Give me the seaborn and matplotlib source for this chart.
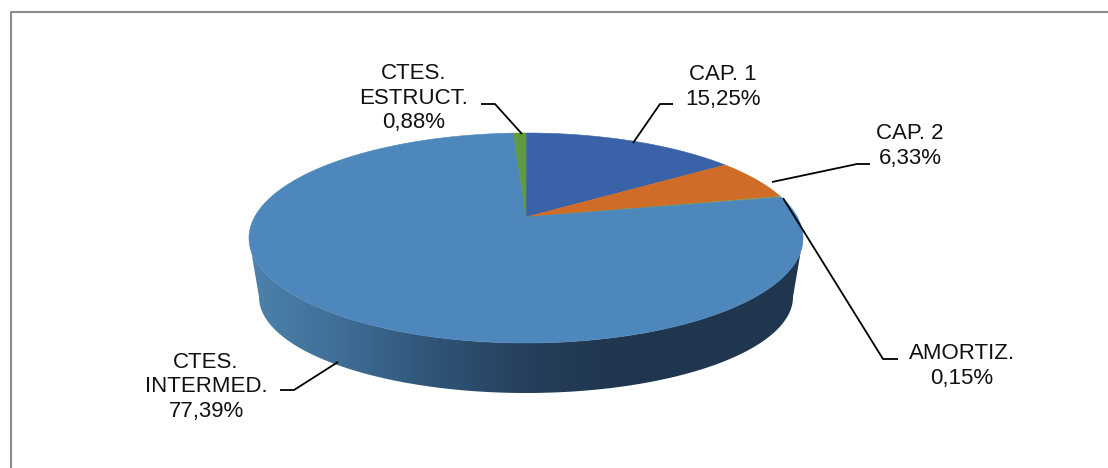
import numpy as np
import seaborn as sns
import matplotlib.pyplot as plt
from matplotlib.patches import Polygon

# Slices, clockwise from 12 o'clock
labels = ["CAP. 1\n15,25%", "CAP. 2\n6,33%", "AMORTIZ.\n0,15%",
          "CTES.\nINTERMED.\n77,39%", "CTES.\nESTRUCT.\n0,88%"]
values = [15.25, 6.33, 0.15, 77.39, 0.88]
colors = ["#3A62A9", "#CE6C28", "#8E9A4A", "#4D87BB", "#5F9A3C"]
side_colors = ["#4D82AC", "#3F6D95", "#2F5477", "#263F5C", "#20364E", "#20364E", "#20364E"]

# Where labels and leader lines sit (pixels)
label_pos = [(723, 87), (910, 146), (962, 366), (206, 387), (414, 98)]
leaders = [[(633, 143), (660, 104), (673, 104)],
           [(772, 182), (857, 164), (870, 164)],
           [(783, 198), (883, 359), (898, 359)],
           [(338, 362), (294, 390), (280, 390)],
           [(522, 134), (495, 104), (481, 104)]]

# Perspective settings of the disc
cx, cy = 526, 217
A, B, k = 271.4, 100.8, 0.2
low_cy, low_rx, low_ry = 297, 267, 96


def project(theta):
    # theta in radians clockwise from the top of the circle
    u, v = np.sin(theta), np.cos(theta)
    d = 1 + k * v
    return cx + A * u / d, cy - B * v / d


sns.set_theme(style="white")
plt.rcParams['font.family'] = ['Liberation Sans', 'DejaVu Sans']

fig = plt.figure(figsize=(11.08, 4.68), dpi=100)
ax = fig.add_axes([0, 0, 1, 1])

# Side wall: gradient clipped to the area under the top face
t = np.linspace(np.pi / 2 + np.arcsin(k), 3 * np.pi / 2 - np.arcsin(k), 200)
tx, ty = project(t)
s = np.linspace(np.pi, 0, 200)
bx, by = cx + low_rx * np.cos(s), low_cy + low_ry * np.sin(s)
wall = np.column_stack([np.r_[tx, bx], np.r_[ty, by]])
grad = sns.blend_palette(side_colors, 256, as_cmap=True)
im = ax.imshow(np.linspace(0, 1, 256).reshape(1, -1), cmap=grad, aspect="auto",
               extent=(250, 802, 400, 220), zorder=1)
clip = Polygon(wall, closed=True, transform=ax.transData, fc="none", ec="none")
ax.add_patch(clip)
im.set_clip_path(clip)

# Top face
edges = np.r_[0, np.cumsum(values)] / sum(values) * 2 * np.pi
for start, end, col in zip(edges[:-1], edges[1:], colors):
    th = np.linspace(start, end, max(int((end - start) * 80), 4))
    px, py = project(th)
    pts = np.column_stack([np.r_[cx, px], np.r_[cy, py]])
    ax.add_patch(Polygon(pts, closed=True, fc=col, ec=col, lw=0.4, zorder=2))

# Leader lines
for pts in leaders:
    xs, ys = zip(*pts)
    ax.plot(xs, ys, color="black", lw=1.3, zorder=3, solid_capstyle="butt")

for txt, (x, y) in zip(labels, label_pos):
    ax.text(x, y, txt, ha="center", va="center", fontsize=16, color="#111111",
            linespacing=1.22, zorder=4)

# Chart border (top and left visible, rest cut off)
ax.plot([11, 11, 1108], [468, 12, 12], color="#8C8C8C", lw=1.5, zorder=5)

ax.set_xlim(0, 1108)
ax.set_ylim(468, 0)
ax.axis("off")

fig.savefig("out.png", dpi=100)
